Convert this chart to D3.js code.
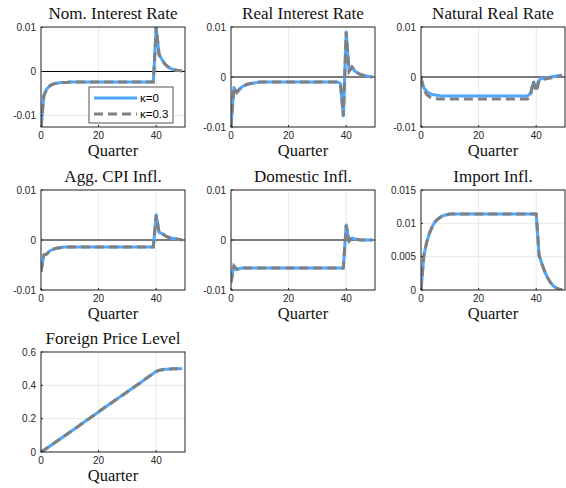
<!DOCTYPE html>
<html>
<head>
<meta charset="utf-8">
<script src="https://cdn.jsdelivr.net/npm/d3@7"></script>
<style>
  body { margin: 0; background: #fff; }
</style>
</head>
<body>
<div id="chart"></div>
<script>
// quarters 0..49
const quarters = d3.range(0, 50);
const xTicks = [0, 20, 40];
const seriesNames = ["\u03ba=0", "\u03ba=0.3"];

const nomRateK0 = [
  -0.0126, -0.0055, -0.0040, -0.0033, -0.0029, -0.0027, -0.0026, -0.0025, -0.0025, -0.0025,
  -0.0024, -0.0024, -0.0024, -0.0024, -0.0024, -0.0024, -0.0024, -0.0024, -0.0024, -0.0024,
  -0.0024, -0.0024, -0.0024, -0.0024, -0.0024, -0.0024, -0.0024, -0.0024, -0.0024, -0.0024,
  -0.0024, -0.0024, -0.0024, -0.0024, -0.0024, -0.0024, -0.0024, -0.0024, -0.0024, -0.0024,
  0.0101, 0.0038, 0.0027, 0.0017, 0.0011, 0.0007, 0.0004, 0.0003, 0.0002, 0.0001
];
const nomRateK3 = [
  -0.0126, -0.0055, -0.0040, -0.0033, -0.0029, -0.0027, -0.0026, -0.0025, -0.0025, -0.0025,
  -0.0024, -0.0024, -0.0024, -0.0024, -0.0024, -0.0024, -0.0024, -0.0024, -0.0024, -0.0024,
  -0.0024, -0.0024, -0.0024, -0.0024, -0.0024, -0.0024, -0.0024, -0.0024, -0.0024, -0.0024,
  -0.0024, -0.0024, -0.0024, -0.0024, -0.0024, -0.0024, -0.0024, -0.0024, -0.0024, -0.0024,
  0.0101, 0.0038, 0.0027, 0.0017, 0.0011, 0.0007, 0.0004, 0.0003, 0.0002, 0.0001
];

const realRateK0 = [
  -0.0100, -0.0021, -0.0031, -0.0024, -0.0019, -0.0016, -0.0014, -0.0013, -0.0012, -0.0011,
  -0.0010, -0.0010, -0.0010, -0.0010, -0.0010, -0.0010, -0.0010, -0.0010, -0.0010, -0.0010,
  -0.0010, -0.0010, -0.0010, -0.0010, -0.0010, -0.0010, -0.0010, -0.0010, -0.0010, -0.0010,
  -0.0010, -0.0010, -0.0010, -0.0010, -0.0010, -0.0010, -0.0010, -0.0010, -0.0013, -0.0078,
  0.0090, 0.0011, 0.0020, 0.0012, 0.0008, 0.0005, 0.0003, 0.0002, 0.0001, 0.0000
];
const realRateK3 = [
  -0.0100, -0.0021, -0.0031, -0.0024, -0.0019, -0.0016, -0.0014, -0.0013, -0.0012, -0.0011,
  -0.0010, -0.0010, -0.0010, -0.0010, -0.0010, -0.0010, -0.0010, -0.0010, -0.0010, -0.0010,
  -0.0010, -0.0010, -0.0010, -0.0010, -0.0010, -0.0010, -0.0010, -0.0010, -0.0010, -0.0010,
  -0.0010, -0.0010, -0.0010, -0.0010, -0.0010, -0.0010, -0.0010, -0.0010, -0.0013, -0.0078,
  0.0090, 0.0011, 0.0020, 0.0012, 0.0008, 0.0005, 0.0003, 0.0002, 0.0001, 0.0000
];

const natRateK0 = [
  -0.0002, -0.0022, -0.0029, -0.0033, -0.0035, -0.0036, -0.0037, -0.0038, -0.0038, -0.0038,
  -0.0038, -0.0038, -0.0038, -0.0038, -0.0038, -0.0038, -0.0038, -0.0038, -0.0038, -0.0038,
  -0.0038, -0.0038, -0.0038, -0.0038, -0.0038, -0.0038, -0.0038, -0.0038, -0.0038, -0.0038,
  -0.0038, -0.0038, -0.0038, -0.0038, -0.0038, -0.0038, -0.0038, -0.0038, -0.0033, -0.0012,
  -0.0019, -0.0006, -0.0003, -0.0002, -0.0001, 0.0000, 0.0001, 0.0002, 0.0003, 0.0004
];
const natRateK3 = [
  -0.0002, -0.0026, -0.0035, -0.0040, -0.0042, -0.0043, -0.0044, -0.0044, -0.0044, -0.0044,
  -0.0044, -0.0044, -0.0044, -0.0044, -0.0044, -0.0044, -0.0044, -0.0044, -0.0044, -0.0044,
  -0.0044, -0.0044, -0.0044, -0.0044, -0.0044, -0.0044, -0.0044, -0.0044, -0.0044, -0.0044,
  -0.0044, -0.0044, -0.0044, -0.0044, -0.0044, -0.0044, -0.0044, -0.0044, -0.0038, -0.0007,
  -0.0030, -0.0007, -0.0005, -0.0004, -0.0003, -0.0002, -0.0001, 0.0000, 0.0001, 0.0002
];

const cpiInflK0 = [
  -0.0063, -0.0030, -0.0028, -0.0022, -0.0019, -0.0017, -0.0016, -0.0015, -0.0014, -0.0014,
  -0.0014, -0.0014, -0.0014, -0.0014, -0.0014, -0.0014, -0.0014, -0.0014, -0.0014, -0.0014,
  -0.0014, -0.0014, -0.0014, -0.0014, -0.0014, -0.0014, -0.0014, -0.0014, -0.0014, -0.0014,
  -0.0014, -0.0014, -0.0014, -0.0014, -0.0014, -0.0014, -0.0014, -0.0014, -0.0014, -0.0014,
  0.0050, 0.0015, 0.0013, 0.0009, 0.0006, 0.0004, 0.0003, 0.0002, 0.0001, 0.0000
];
const cpiInflK3 = [
  -0.0063, -0.0030, -0.0028, -0.0022, -0.0019, -0.0017, -0.0016, -0.0015, -0.0014, -0.0014,
  -0.0014, -0.0014, -0.0014, -0.0014, -0.0014, -0.0014, -0.0014, -0.0014, -0.0014, -0.0014,
  -0.0014, -0.0014, -0.0014, -0.0014, -0.0014, -0.0014, -0.0014, -0.0014, -0.0014, -0.0014,
  -0.0014, -0.0014, -0.0014, -0.0014, -0.0014, -0.0014, -0.0014, -0.0014, -0.0014, -0.0014,
  0.0050, 0.0015, 0.0013, 0.0009, 0.0006, 0.0004, 0.0003, 0.0002, 0.0001, 0.0000
];

const domInflK0 = [
  -0.0085, -0.0052, -0.0059, -0.0057, -0.0056, -0.0056, -0.0056, -0.0056, -0.0056, -0.0056,
  -0.0056, -0.0056, -0.0056, -0.0056, -0.0056, -0.0056, -0.0056, -0.0056, -0.0056, -0.0056,
  -0.0056, -0.0056, -0.0056, -0.0056, -0.0056, -0.0056, -0.0056, -0.0056, -0.0056, -0.0056,
  -0.0056, -0.0056, -0.0056, -0.0056, -0.0056, -0.0056, -0.0056, -0.0056, -0.0056, -0.0056,
  0.0030, -0.0002, 0.0004, 0.0002, 0.0001, 0.0000, 0.0000, 0.0000, 0.0000, 0.0000
];
const domInflK3 = [
  -0.0085, -0.0052, -0.0059, -0.0057, -0.0056, -0.0056, -0.0056, -0.0056, -0.0056, -0.0056,
  -0.0056, -0.0056, -0.0056, -0.0056, -0.0056, -0.0056, -0.0056, -0.0056, -0.0056, -0.0056,
  -0.0056, -0.0056, -0.0056, -0.0056, -0.0056, -0.0056, -0.0056, -0.0056, -0.0056, -0.0056,
  -0.0056, -0.0056, -0.0056, -0.0056, -0.0056, -0.0056, -0.0056, -0.0056, -0.0056, -0.0056,
  0.0030, -0.0002, 0.0004, 0.0002, 0.0001, 0.0000, 0.0000, 0.0000, 0.0000, 0.0000
];

const impInflK0 = [
  0.0000, 0.0052, 0.0072, 0.0086, 0.0096, 0.0103, 0.0107, 0.0110, 0.0112, 0.0113,
  0.0114, 0.0114, 0.0114, 0.0114, 0.0114, 0.0114, 0.0114, 0.0114, 0.0114, 0.0114,
  0.0114, 0.0114, 0.0114, 0.0114, 0.0114, 0.0114, 0.0114, 0.0114, 0.0114, 0.0114,
  0.0114, 0.0114, 0.0114, 0.0114, 0.0114, 0.0114, 0.0114, 0.0114, 0.0114, 0.0114,
  0.0114, 0.0052, 0.0039, 0.0027, 0.0018, 0.0011, 0.0006, 0.0003, 0.0001, 0.0000
];
const impInflK3 = [
  0.0000, 0.0052, 0.0072, 0.0086, 0.0096, 0.0103, 0.0107, 0.0110, 0.0112, 0.0113,
  0.0114, 0.0114, 0.0114, 0.0114, 0.0114, 0.0114, 0.0114, 0.0114, 0.0114, 0.0114,
  0.0114, 0.0114, 0.0114, 0.0114, 0.0114, 0.0114, 0.0114, 0.0114, 0.0114, 0.0114,
  0.0114, 0.0114, 0.0114, 0.0114, 0.0114, 0.0114, 0.0114, 0.0114, 0.0114, 0.0114,
  0.0114, 0.0052, 0.0039, 0.0027, 0.0018, 0.0011, 0.0006, 0.0003, 0.0001, 0.0000
];

const forPriceK0 = [
  0.000, 0.011, 0.023, 0.035, 0.047, 0.059, 0.071, 0.083, 0.095, 0.107,
  0.119, 0.131, 0.143, 0.155, 0.168, 0.180, 0.192, 0.204, 0.216, 0.228,
  0.241, 0.253, 0.265, 0.277, 0.289, 0.301, 0.313, 0.325, 0.338, 0.350,
  0.362, 0.374, 0.386, 0.398, 0.410, 0.422, 0.435, 0.447, 0.459, 0.471,
  0.483, 0.490, 0.494, 0.496, 0.497, 0.498, 0.499, 0.499, 0.500, 0.500
];
const forPriceK3 = [
  0.000, 0.011, 0.023, 0.035, 0.047, 0.059, 0.071, 0.083, 0.095, 0.107,
  0.119, 0.131, 0.143, 0.155, 0.168, 0.180, 0.192, 0.204, 0.216, 0.228,
  0.241, 0.253, 0.265, 0.277, 0.289, 0.301, 0.313, 0.325, 0.338, 0.350,
  0.362, 0.374, 0.386, 0.398, 0.410, 0.422, 0.435, 0.447, 0.459, 0.471,
  0.483, 0.490, 0.494, 0.496, 0.497, 0.498, 0.499, 0.499, 0.500, 0.500
];

const rateTicks = [-0.01, 0, 0.01];
const rateTickLabels = ["-0.01", "0", "0.01"];
const impTicks = [0, 0.005, 0.01, 0.015];
const impTickLabels = ["0", "0.005", "0.01", "0.015"];
const priceTicks = [0, 0.2, 0.4, 0.6];
const priceTickLabels = ["0", "0.2", "0.4", "0.6"];

const panels = [
  { title: "Nom. Interest Rate", k0: nomRateK0, k3: nomRateK3, yMin: -0.0126, yMax: 0.0101, ticks: rateTicks, labels: rateTickLabels, col: 0, row: 0, legend: true },
  { title: "Real Interest Rate", k0: realRateK0, k3: realRateK3, yMin: -0.01, yMax: 0.01, ticks: rateTicks, labels: rateTickLabels, col: 1, row: 0 },
  { title: "Natural Real Rate", k0: natRateK0, k3: natRateK3, yMin: -0.01, yMax: 0.01, ticks: rateTicks, labels: rateTickLabels, col: 2, row: 0 },
  { title: "Agg. CPI Infl.", k0: cpiInflK0, k3: cpiInflK3, yMin: -0.01, yMax: 0.01, ticks: rateTicks, labels: rateTickLabels, col: 0, row: 1 },
  { title: "Domestic Infl.", k0: domInflK0, k3: domInflK3, yMin: -0.01, yMax: 0.01, ticks: rateTicks, labels: rateTickLabels, col: 1, row: 1 },
  { title: "Import Infl.", k0: impInflK0, k3: impInflK3, yMin: 0, yMax: 0.015, ticks: impTicks, labels: impTickLabels, col: 2, row: 1 },
  { title: "Foreign Price Level", k0: forPriceK0, k3: forPriceK3, yMin: 0, yMax: 0.6, ticks: priceTicks, labels: priceTickLabels, col: 0, row: 2 },
];

const dims = { width: 566, height: 488 };
const colLeft = [41, 231, 421];
const rowTop = [27, 190, 352];
const boxW = 144;
const boxH = 100;

const blue = "#4da6ff";
const grey = "#808080";
const axisColor = "#262626";
const serif = "'Liberation Serif', 'DejaVu Serif', serif";
const sans = "'Liberation Sans', Arial, sans-serif";

const svg = d3
  .select("#chart")
  .append("svg")
  .attr("width", dims.width)
  .attr("height", dims.height)
  .style("display", "block");

svg.append("rect").attr("width", dims.width).attr("height", dims.height).attr("fill", "#fff");

panels.forEach((p, idx) => {
  const left = colLeft[p.col];
  const top = rowTop[p.row];
  const g = svg.append("g").attr("transform", `translate(${left},${top})`);

  const x = d3.scaleLinear().domain([0, 50]).range([0, boxW]);
  const y = d3.scaleLinear().domain([p.yMin, p.yMax]).range([boxH, 0]);

  g.append("clipPath")
    .attr("id", `clip${idx}`)
    .append("rect")
    .attr("width", boxW)
    .attr("height", boxH);

  // grid lines
  const grid = g.append("g").attr("stroke", "#e3e3e3").attr("stroke-width", 0.8);
  xTicks.forEach((t) => {
    grid.append("line").attr("x1", x(t)).attr("x2", x(t)).attr("y1", 0).attr("y2", boxH);
  });
  p.ticks.forEach((t) => {
    grid.append("line").attr("x1", 0).attr("x2", boxW).attr("y1", y(t)).attr("y2", y(t));
  });

  // zero line
  if (p.yMin < 0 && p.yMax > 0) {
    g.append("line")
      .attr("x1", 0)
      .attr("x2", boxW)
      .attr("y1", y(0))
      .attr("y2", y(0))
      .attr("stroke", "#000")
      .attr("stroke-width", 1);
  }

  const line = d3
    .line()
    .x((d, i) => x(quarters[i]))
    .y((d) => y(d));

  const plot = g.append("g").attr("clip-path", `url(#clip${idx})`);
  plot.append("path")
    .datum(p.k0)
    .attr("d", line)
    .attr("fill", "none")
    .attr("stroke", blue)
    .attr("stroke-width", 3)
    .attr("stroke-linejoin", "round");
  plot.append("path")
    .datum(p.k3)
    .attr("d", line)
    .attr("fill", "none")
    .attr("stroke", grey)
    .attr("stroke-width", 3)
    .attr("stroke-dasharray", "9,5");

  // box
  g.append("rect")
    .attr("width", boxW)
    .attr("height", boxH)
    .attr("fill", "none")
    .attr("stroke", axisColor)
    .attr("stroke-width", 1);

  // ticks (inside) and labels
  xTicks.forEach((t) => {
    g.append("line").attr("x1", x(t)).attr("x2", x(t)).attr("y1", boxH).attr("y2", boxH - 2).attr("stroke", axisColor);
    g.append("text")
      .attr("x", x(t))
      .attr("y", boxH + 12)
      .attr("text-anchor", "middle")
      .attr("font-family", sans)
      .attr("font-size", "10px")
      .attr("fill", axisColor)
      .text(t);
  });
  p.ticks.forEach((t, i) => {
    g.append("line").attr("x1", 0).attr("x2", 2).attr("y1", y(t)).attr("y2", y(t)).attr("stroke", axisColor);
    g.append("text")
      .attr("x", -5)
      .attr("y", y(t))
      .attr("dy", "0.35em")
      .attr("text-anchor", "end")
      .attr("font-family", sans)
      .attr("font-size", "10px")
      .attr("fill", axisColor)
      .text(p.labels[i]);
  });

  // title and x label
  g.append("text")
    .attr("x", boxW / 2)
    .attr("y", -8)
    .attr("text-anchor", "middle")
    .attr("font-family", serif)
    .attr("font-size", "17px")
    .attr("fill", "#111")
    .text(p.title);
  g.append("text")
    .attr("x", boxW / 2)
    .attr("y", boxH + 29)
    .attr("text-anchor", "middle")
    .attr("font-family", serif)
    .attr("font-size", "16.5px")
    .attr("fill", "#111")
    .text("Quarter");

  if (p.legend) {
    const lg = g.append("g").attr("transform", "translate(48,60)");
    lg.append("rect")
      .attr("width", 84)
      .attr("height", 36)
      .attr("fill", "#fff")
      .attr("stroke", axisColor)
      .attr("stroke-width", 0.8);
    const styles = [
      { color: blue, dash: null },
      { color: grey, dash: "9,5" },
    ];
    seriesNames.forEach((name, i) => {
      const yy = 11 + i * 16;
      lg.append("line")
        .attr("x1", 5)
        .attr("x2", 48)
        .attr("y1", yy)
        .attr("y2", yy)
        .attr("stroke", styles[i].color)
        .attr("stroke-width", 3)
        .attr("stroke-dasharray", styles[i].dash);
      lg.append("text")
        .attr("x", 51)
        .attr("y", yy)
        .attr("dy", "0.35em")
        .attr("font-family", sans)
        .attr("font-size", "11.5px")
        .attr("fill", "#000")
        .text(name);
    });
  }
});
</script>
</body>
</html>
